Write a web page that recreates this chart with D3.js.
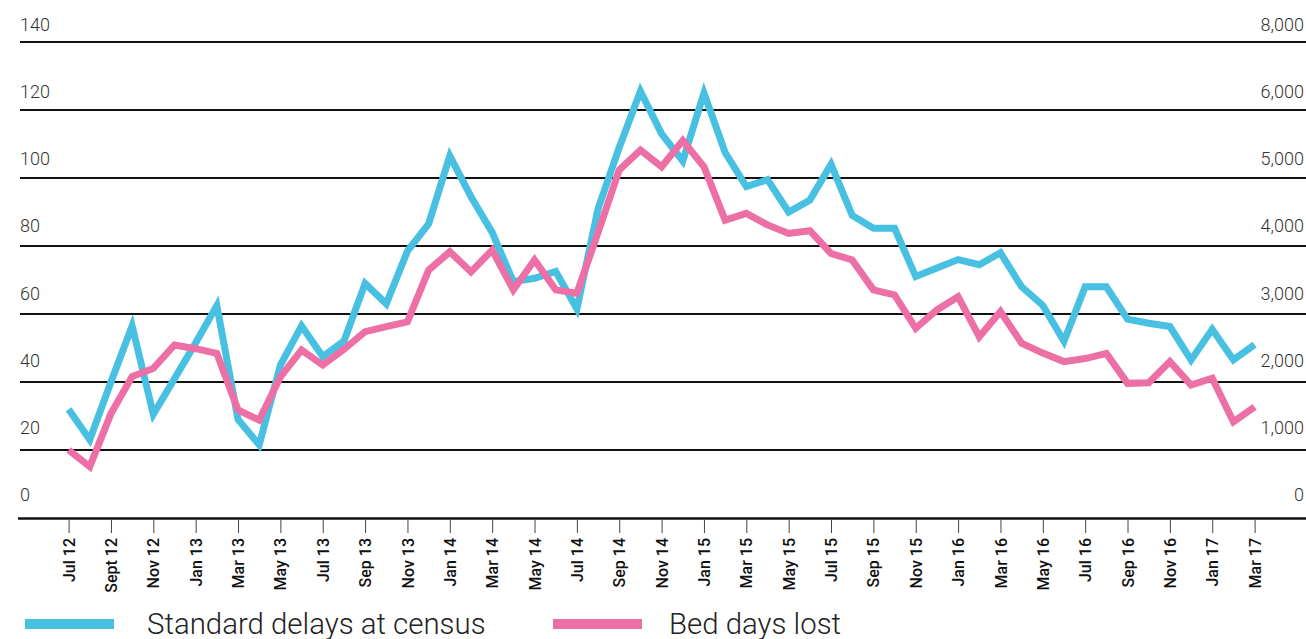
<!DOCTYPE html>
<html>
<head>
<meta charset="utf-8">
<script src="https://cdn.jsdelivr.net/npm/d3@7"></script>
<style>
  body { margin: 0; background: #fff; }
  svg { display: block; font-family: Roboto, "Noto Sans", sans-serif; }
</style>
</head>
<body>
<svg id="chart" width="1306" height="639"></svg>
<script>
// months Jul 2012 .. Mar 2017
var months = d3.timeMonth.range(new Date(2012, 6, 1), new Date(2017, 3, 1))
  .map(function(d){ return d3.timeFormat("%Y-%m")(d); });

var tickLabels = ["Jul 12","Sept 12","Nov 12","Jan 13","Mar 13","May 13","Jul 13","Sep 13","Nov 13",
  "Jan 14","Mar 14","May 14","Jul 14","Sep 14","Nov 14","Jan 15","Mar 15","May 15","Jul 15","Sep 15",
  "Nov 15","Jan 16","Mar 16","May 16","Jul 16","Sep 16","Nov 16","Jan 17","Mar 17"];

// standard delays at census (left axis)
var delays = [32, 23, 40, 56.5, 30.5, 41, 51.5, 62.5, 29, 21.5, 45, 56.5, 47.5, 52, 69, 63, 78.5, 86.5,
  106.5, 94.5, 84, 69.5, 70.5, 72.5, 61.5, 91, 109, 125.5, 113, 105, 125, 107.5, 97.5, 99.5, 90, 93.5,
  104, 89, 85.2, 85.2, 71, 73.5, 76, 74.5, 78, 68, 62.5, 52, 68, 68, 58.5, 57.3, 56.3, 46.5, 55.5, 46.5, 51];

// bed days lost (right axis)
var bedDays = [1000, 755, 1535, 2080, 2200, 2545, 2490, 2420, 1590, 1440, 2075, 2470, 2250, 2480, 2740,
  2815, 2885, 3645, 3915, 3620, 3940, 3355, 3795, 3355, 3305, 4200, 5120, 5410, 5165, 5550, 5165, 4380,
  4480, 4310, 4185, 4225, 3890, 3795, 3355, 3280, 2790, 3060, 3255, 2665, 3035, 2570, 2425, 2300, 2345,
  2420, 1980, 1990, 2300, 1955, 2055, 1415, 1635];

var leftTicks = [0, 20, 40, 60, 80, 100, 120, 140];
// the top right label of the original reads 8,000 although it sits at the 7,000 step
var rightTicks = [0, 1000, 2000, 3000, 4000, 5000, 6000, 7000];
var rightLabels = ["0", "1,000", "2,000", "3,000", "4,000", "5,000", "6,000", "8,000"];

var my = {
  svg: d3.select("#chart"),
  blue: "#48c0e1",
  pink: "#ec6fa6"
};

var x = d3.scalePoint().domain(months).range([68.6, 1254.6]);
var yL = d3.scaleLinear().domain([0, 140]).range([518, 42]);
var yR = d3.scaleLinear().domain([0, 7000]).range([518, 42]);
// axis labels drift slightly against the gridlines in the original
var yLab = d3.scaleLinear().domain([0, 140]).range([501, 31]);

// gridlines
my.svg.append("g").selectAll("line")
  .data(leftTicks.filter(function(d){ return d > 0; }))
  .enter().append("line")
  .attr("x1", 20).attr("x2", 1306)
  .attr("y1", function(d){ return yL(d); }).attr("y2", function(d){ return yL(d); })
  .attr("stroke", "#111").attr("stroke-width", 2);

// left labels
my.svg.append("g").selectAll("text")
  .data(leftTicks)
  .enter().append("text")
  .attr("x", 20).attr("y", function(d){ return yLab(d); })
  .attr("font-size", 18).attr("font-weight", 300).attr("fill", "#333")
  .text(function(d){ return d; });

// right labels
my.svg.append("g").selectAll("text")
  .data(rightTicks)
  .enter().append("text")
  .attr("x", 1304).attr("text-anchor", "end")
  .attr("y", function(d){ return yLab(d / 50); })
  .attr("font-size", 18).attr("font-weight", 300).attr("fill", "#333")
  .text(function(d, i){ return rightLabels[i]; });

// lines
var lineL = d3.line().x(function(d, i){ return x(months[i]); }).y(function(d){ return yL(d); });
var lineR = d3.line().x(function(d, i){ return x(months[i]); }).y(function(d){ return yR(d); });

my.svg.append("path").datum(delays)
  .attr("d", lineL).attr("fill", "none")
  .attr("stroke", my.blue).attr("stroke-width", 7).attr("stroke-linejoin", "miter");

my.svg.append("path").datum(bedDays)
  .attr("d", lineR).attr("fill", "none")
  .attr("stroke", my.pink).attr("stroke-width", 7).attr("stroke-linejoin", "miter");

// baseline + x axis
my.svg.append("line")
  .attr("x1", 18).attr("x2", 1306).attr("y1", 518.5).attr("y2", 518.5)
  .attr("stroke", "#111").attr("stroke-width", 2.5);

var tickMonths = months.filter(function(d, i){ return i % 2 === 0; });
var xAxis = d3.axisBottom(x)
  .tickValues(tickMonths)
  .tickSize(13)
  .tickFormat(function(d, i){ return tickLabels[i]; });

var gx = my.svg.append("g").attr("transform", "translate(0,520)").call(xAxis);
gx.select(".domain").remove();
gx.selectAll(".tick line").attr("stroke", "#444").attr("stroke-width", 1);
gx.selectAll(".tick text")
  .attr("transform", "rotate(-90)")
  .attr("x", -18).attr("y", 0).attr("dy", "0.35em")
  .attr("text-anchor", "end")
  .attr("font-family", "Roboto, sans-serif")
  .attr("font-size", 16).attr("font-weight", 500).attr("fill", "#111");

// legend
var legend = [["Standard delays at census", my.blue, 25, 147], ["Bed days lost", my.pink, 553, 669]];
var lg = my.svg.append("g").selectAll("g").data(legend).enter().append("g");
lg.append("rect")
  .attr("x", function(d){ return d[2]; }).attr("y", 619)
  .attr("width", 89).attr("height", 10)
  .attr("fill", function(d){ return d[1]; });
lg.append("text")
  .attr("x", function(d){ return d[3]; }).attr("y", 634)
  .attr("font-size", 29.4).attr("font-weight", 300).attr("fill", "#222")
  .text(function(d){ return d[0]; });
</script>
</body>
</html>
